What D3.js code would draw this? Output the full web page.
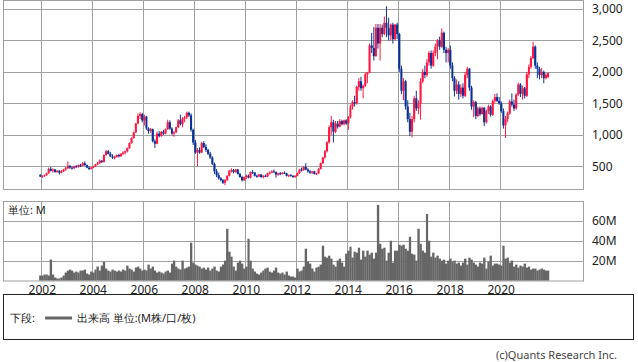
<!DOCTYPE html>
<html>
<head>
<meta charset="utf-8">
<script src="https://cdn.jsdelivr.net/npm/d3@7"></script>
<style>
  html, body { margin: 0; padding: 0; background: #fff; }
  svg { display: block; font-family: "Noto Sans", "DejaVu Sans", sans-serif; }
</style>
</head>
<body>
<div id="chart"></div>
<script>
// monthly candles, Dec 2001 .. Nov 2021 (one row per year)
const opens = [
  360,
  340,345,360,390,460,430,450,410,430,400,420,450,
  470,510,480,470,500,490,520,510,550,520,480,460,
  480,500,530,550,590,570,680,740,700,660,640,650,
  680,660,700,720,740,790,870,950,1040,1180,1300,1330,
  1230,1290,1100,1060,1090,900,860,1020,980,1050,1020,1090,
  1200,1100,1020,1040,1120,1230,1170,1260,1280,1350,1310,1080,
  880,720,760,720,870,810,760,700,640,540,420,360,
  310,280,240,280,350,430,440,410,450,380,330,280,
  330,350,320,410,400,350,340,370,330,350,340,390,
  400,420,410,370,390,380,400,390,350,360,350,330,
  350,390,450,440,490,450,420,400,420,380,390,460,
  550,640,740,880,1120,1200,1050,1180,1130,1220,1170,1230,
  1180,1280,1450,1520,1500,1760,1850,1740,1780,1960,1990,2420,
  2380,2250,2700,2450,2700,2600,2780,2700,2580,2750,2520,2750,
  2600,2050,1700,1850,1450,1250,1050,1250,1580,1420,1500,1850,
  2000,1950,2150,2300,2100,2300,2400,2500,2400,2620,2350,2300,
  2350,2100,1900,1700,1800,1650,1750,1620,1950,2050,1750,1450,
  1520,1300,1420,1330,1430,1200,1380,1450,1320,1540,1600,1540,
  1500,1380,1150,1250,1340,1530,1480,1420,1640,1800,1650,1740,
  1620,1960,2080,2220,2400,2100,2050,1950,2000,1900,1920
];
const highs = [
  380,
  360,370,400,480,490,470,460,440,440,440,460,490,
  580,520,500,510,520,530,540,570,580,530,500,490,
  510,540,570,610,600,690,760,760,730,690,670,690,
  700,710,740,750,800,880,960,1050,1190,1340,1360,1350,
  1320,1300,1120,1110,1100,930,1050,1060,1060,1080,1100,1240,
  1230,1120,1060,1130,1250,1320,1280,1300,1370,1370,1340,1100,
  920,790,800,890,900,850,780,730,660,560,460,400,
  330,300,300,360,440,470,460,460,460,400,350,340,
  370,370,420,440,410,370,380,380,360,370,400,420,
  440,450,420,400,410,410,420,400,370,380,360,360,
  400,460,480,500,550,470,440,430,430,400,470,560,
  650,760,900,1150,1300,1240,1220,1220,1250,1240,1240,1250,
  1300,1480,1550,1620,1780,1900,1920,1800,1990,2000,2450,2620,
  2710,2760,2760,2760,2750,2880,3040,2860,2770,2780,2760,2780,
  2620,2100,1900,1870,1550,1350,1300,1620,1700,1550,1900,2050,
  2100,2200,2330,2340,2340,2450,2520,2560,2690,2640,2400,2380,
  2420,2150,1930,1880,1850,1800,1820,2000,2080,2060,1780,1550,
  1540,1450,1450,1450,1440,1400,1480,1470,1560,1650,1660,1600,
  1530,1420,1300,1370,1560,1660,1560,1660,1830,1820,1780,1760,
  2000,2120,2250,2480,2420,2150,2080,2060,2020,1980,1990
];
const lows = [
  330,
  320,335,350,385,420,400,400,400,370,390,410,430,
  460,460,450,460,480,480,490,500,510,470,440,450,
  470,490,520,540,550,560,670,690,650,620,610,640,
  640,650,680,690,720,780,860,940,1030,1170,1250,1200,
  1150,1080,1020,1030,880,790,850,960,970,1000,1010,1080,
  1080,1000,970,1030,1110,1150,1120,1200,1250,1280,1050,840,
  700,500,700,710,790,730,680,620,520,380,330,290,
  260,220,200,270,340,400,390,400,370,320,260,270,
  300,310,310,380,340,320,330,320,310,330,330,370,
  390,400,320,350,360,370,380,340,330,340,320,320,
  340,380,420,430,440,400,380,380,370,360,380,450,
  540,620,720,860,1000,880,1030,1100,1120,1150,1150,1160,
  1080,1260,1400,1450,1480,1700,1700,1580,1760,1820,1980,2300,
  2180,2240,2370,2180,2550,2580,2550,2500,2500,2450,2500,2520,
  2000,1650,1550,1400,1200,980,960,1200,1380,1330,1240,1820,
  1900,1920,2100,2050,2080,2250,2200,2350,2380,2300,2150,2150,
  2050,1850,1610,1650,1560,1600,1580,1600,1900,1700,1400,1280,
  1250,1280,1300,1320,1140,1180,1330,1290,1300,1500,1520,1480,
  1350,1100,950,1200,1320,1450,1380,1400,1620,1600,1560,1580,
  1600,1900,2050,2200,2050,1900,1880,1900,1820,1880,1900
];
const closes = [
  340,
  345,360,390,460,430,450,410,430,400,420,450,470,
  510,480,470,500,490,520,510,550,520,480,460,480,
  500,530,550,590,570,680,740,700,660,640,650,680,
  660,700,720,740,790,870,950,1040,1180,1300,1330,1230,
  1290,1100,1060,1090,900,860,1020,980,1050,1020,1090,1200,
  1100,1020,1040,1120,1230,1170,1260,1280,1350,1310,1080,880,
  720,760,720,870,810,760,700,640,540,420,360,310,
  280,240,280,350,430,440,410,450,380,330,280,330,
  350,320,410,400,350,340,370,330,350,340,390,400,
  420,410,370,390,380,400,390,350,360,350,330,350,
  390,450,440,490,450,420,400,420,380,390,460,550,
  640,740,880,1120,1200,1050,1180,1130,1220,1170,1230,1180,
  1280,1450,1520,1500,1760,1850,1740,1780,1960,1990,2420,2380,
  2250,2700,2450,2700,2600,2780,2700,2580,2750,2520,2750,2600,
  2050,1700,1850,1450,1250,1050,1250,1580,1420,1500,1850,2000,
  1950,2150,2300,2100,2300,2400,2500,2400,2620,2350,2300,2350,
  2100,1900,1700,1800,1650,1750,1620,1950,2050,1750,1450,1520,
  1300,1420,1330,1430,1200,1380,1450,1320,1540,1600,1540,1500,
  1380,1150,1250,1340,1530,1480,1420,1640,1800,1650,1740,1620,
  1960,2080,2220,2400,2100,2050,1950,2000,1900,1950,1980
];
// volume in millions
const volumes = [
  5,
  5,6,6,5,21,6,3,2,2,3,5,8,
  10,11,10,8,9,8,10,10,11,7,6,9,
  8,11,14,10,15,19,12,10,9,11,10,9,
  10,9,11,10,15,12,11,9,13,14,12,10,
  11,10,16,12,14,10,8,9,8,7,9,10,
  8,17,20,14,12,11,20,12,13,14,38,18,
  16,15,14,12,13,11,13,10,12,14,10,9,
  14,16,20,52,29,24,14,10,18,20,17,12,
  14,42,20,12,9,7,6,8,10,12,13,9,
  8,10,13,8,7,8,6,9,5,4,4,3,
  12,9,10,14,32,19,17,12,9,13,14,16,
  35,24,23,25,22,16,14,20,22,18,14,27,
  30,34,23,29,28,33,21,30,24,30,26,28,
  22,28,76,37,32,33,20,28,40,18,30,30,
  36,35,36,32,30,44,27,26,20,52,37,30,
  28,67,40,24,28,23,25,22,20,21,17,20,
  22,19,20,17,18,15,18,22,16,23,21,18,
  16,14,18,17,23,12,19,25,15,17,17,16,
  15,35,22,23,18,20,14,16,13,15,14,17,
  13,14,11,12,12,10,11,12,11,10,10
];
const priceTicks = [500, 1000, 1500, 2000, 2500, 3000];
const volumeTicks = [20, 40, 60];
const yearTicks = [2002, 2004, 2006, 2008, 2010, 2012, 2014, 2016, 2018, 2020];

const months = d3.timeMonth.range(new Date(2001, 11, 1), new Date(2001, 11 + opens.length, 1));
const data = months.map((d, i) => ({
  date: d, open: opens[i], high: highs[i], low: lows[i], close: closes[i], volume: volumes[i]
}));

const W = 638, H = 362;
const left = 3, right = 583;
const pTop = 1, pBottom = 190;
const vTop = 201, vBottom = 280.5;
const gridColor = "#a0a0a0";
const upColor = "#ff1744";
const downColor = "#0a3296";

const svg = d3.select("#chart").append("svg")
  .attr("width", W)
  .attr("height", H);

const x = d3.scaleTime()
  .domain([new Date(2000, 6, 1), new Date(2023, 3, 1)])
  .range([left, right]);

const y = d3.scaleLinear()
  .domain([125, 3125])
  .range([pBottom, pTop]);

const yv = d3.scaleLinear()
  .domain([0, 80])
  .range([vBottom, vTop]);

const crisp = v => Math.round(v) + 0.5;
const yearDates = yearTicks.map(yr => new Date(yr, 0, 1));

// price panel grid
const gp = svg.append("g").attr("stroke", gridColor).attr("stroke-width", 1);
gp.selectAll("line.v").data(yearDates).join("line")
  .attr("x1", d => crisp(x(d))).attr("x2", d => crisp(x(d)))
  .attr("y1", pTop).attr("y2", pBottom);
gp.selectAll("line.h").data(priceTicks).join("line")
  .attr("x1", left).attr("x2", right)
  .attr("y1", d => crisp(y(d))).attr("y2", d => crisp(y(d)));
gp.append("rect")
  .attr("x", left + 0.5).attr("y", pTop - 0.5)
  .attr("width", right - left).attr("height", pBottom - pTop)
  .attr("fill", "none");

// volume panel grid
const gv = svg.append("g").attr("stroke", gridColor).attr("stroke-width", 1);
gv.selectAll("line.v").data(yearDates).join("line")
  .attr("x1", d => crisp(x(d))).attr("x2", d => crisp(x(d)))
  .attr("y1", vTop).attr("y2", vBottom);
gv.selectAll("line.h").data(volumeTicks).join("line")
  .attr("x1", left).attr("x2", right)
  .attr("y1", d => crisp(yv(d))).attr("y2", d => crisp(yv(d)));
gv.append("rect")
  .attr("x", left + 0.5).attr("y", vTop + 0.5)
  .attr("width", right - left).attr("height", vBottom - vTop)
  .attr("fill", "none");

// candles
const mx0 = d => x(d.date);
const mx1 = d => x(d3.timeMonth.offset(d.date, 1));
const candles = svg.append("g").selectAll("g").data(data).join("g")
  .attr("fill", d => d.close >= d.open ? upColor : downColor)
  .attr("stroke", d => d.close >= d.open ? upColor : downColor);
candles.append("line")
  .attr("x1", d => (mx0(d) + mx1(d)) / 2).attr("x2", d => (mx0(d) + mx1(d)) / 2)
  .attr("y1", d => y(d.high)).attr("y2", d => y(d.low))
  .attr("stroke-width", 1);
candles.append("rect")
  .attr("stroke", "none")
  .attr("x", d => mx0(d))
  .attr("width", d => mx1(d) - mx0(d))
  .attr("y", d => y(Math.max(d.open, d.close)))
  .attr("height", d => Math.max(1, Math.abs(y(d.open) - y(d.close))));

// volume bars
svg.append("g").attr("fill", "#666666")
  .selectAll("rect").data(data).join("rect")
  .attr("x", d => mx0(d))
  .attr("width", d => mx1(d) - mx0(d) + 0.2)
  .attr("y", d => yv(d.volume))
  .attr("height", d => yv(0) - yv(d.volume));

// axis labels
const fmt = d3.format(",");
svg.append("g").selectAll("text").data(priceTicks).join("text")
  .attr("x", 592).attr("y", d => y(d) + 4.5)
  .attr("font-size", 12).attr("fill", "#222")
  .text(d => fmt(d));
svg.append("g").selectAll("text").data(volumeTicks).join("text")
  .attr("x", 592).attr("y", d => yv(d) + 4.5)
  .attr("font-size", 12).attr("fill", "#222")
  .text(d => d + "M");
svg.append("g").selectAll("text").data(yearDates).join("text")
  .attr("x", d => x(d) + 1).attr("y", 293.5)
  .attr("text-anchor", "middle")
  .attr("font-size", 12).attr("fill", "#222")
  .text(d => d.getFullYear());

svg.append("text")
  .attr("x", 8).attr("y", 214)
  .attr("font-size", 11).attr("fill", "#222")
  .text("単位: M");

// legend box
svg.append("rect")
  .attr("x", 3.5).attr("y", 294.5)
  .attr("width", 630).attr("height", 45)
  .attr("fill", "none").attr("stroke", "#222");
svg.append("text")
  .attr("x", 10).attr("y", 322)
  .attr("font-size", 11).attr("fill", "#222")
  .text("下段:");
svg.append("line")
  .attr("x1", 45).attr("x2", 72)
  .attr("y1", 318).attr("y2", 318)
  .attr("stroke", "#666").attr("stroke-width", 3);
svg.append("text")
  .attr("x", 77).attr("y", 322)
  .attr("font-size", 11).attr("fill", "#222")
  .text("出来高 単位:(M株/口/枚)");

svg.append("text")
  .attr("x", 617).attr("y", 359)
  .attr("text-anchor", "end")
  .attr("font-size", 11).attr("fill", "#444")
  .text("(c)Quants Research Inc.");
</script>
</body>
</html>
